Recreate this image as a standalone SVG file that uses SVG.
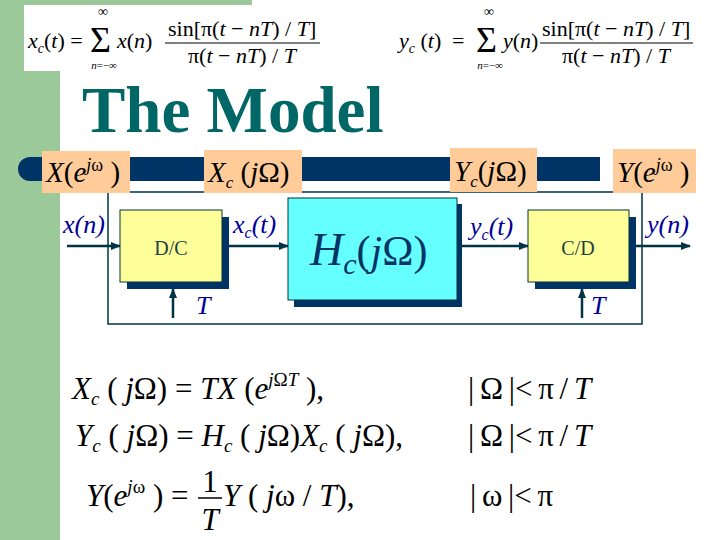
<svg xmlns="http://www.w3.org/2000/svg" width="720" height="540" viewBox="0 0 720 540">
<defs>
<style>
text{font-family:'Liberation Serif','Times New Roman',serif;}
.i{font-style:italic;}
.eq{font-size:31px;fill:#000;}
.top{font-size:22px;fill:#000;}
.lab{font-size:29px;fill:#000;}
.sig{font-size:26px;font-style:italic;fill:#000099;}
.blk{font-size:20px;fill:#1f3f3f;}
.orange{fill:#ffcc99;}
.shadow{fill:#003366;}
.wire{stroke:#003344;stroke-width:2.5;fill:none;}
</style>
<marker id="ah" markerUnits="userSpaceOnUse" markerWidth="10" markerHeight="8" refX="9" refY="4" orient="auto">
<path d="M0,0 L10,4 L0,8 Z" fill="#003344"/>
</marker>
</defs>
<rect x="0" y="0" width="720" height="540" fill="#ffffff"/>
<rect x="0" y="0" width="60" height="540" fill="#9cc99a"/>
<rect x="0" y="0" width="252" height="6" fill="#9cc99a"/>
<rect x="24" y="5" width="306" height="66" fill="#ffffff"/>
<g id="formula-xc">
<text class="top" x="28" y="48"><tspan class="i">x</tspan><tspan class="i" font-size="14" dy="5">c</tspan><tspan dy="-5">(</tspan><tspan class="i">t</tspan>) =</text>
<text x="90" y="52" font-size="36">Σ</text>
<text x="103" y="16" font-size="14" text-anchor="middle">∞</text>
<text class="i" x="104" y="69" font-size="11" text-anchor="middle">n<tspan font-style="normal">=−∞</tspan></text>
<text class="top" x="117" y="48"><tspan class="i">x</tspan>(<tspan class="i">n</tspan>)</text>
<text class="top" x="168" y="36">sin[π(<tspan class="i">t</tspan> − <tspan class="i">nT</tspan>) / <tspan class="i">T</tspan>]</text>
<line x1="165" y1="43" x2="320" y2="43" stroke="#000" stroke-width="1.2"/>
<text class="top" x="188" y="63">π(<tspan class="i">t</tspan> − <tspan class="i">nT</tspan>) / <tspan class="i">T</tspan></text>
</g>
<g id="formula-yc">
<text class="top" x="399" y="48"><tspan class="i">y</tspan><tspan class="i" font-size="14" dy="5">c</tspan><tspan dy="-5"> (</tspan><tspan class="i">t</tspan>)</text>
<text class="top" x="452" y="48">=</text>
<text x="476" y="52" font-size="36">Σ</text>
<text x="489" y="16" font-size="14" text-anchor="middle">∞</text>
<text class="i" x="490" y="69" font-size="11" text-anchor="middle">n<tspan font-style="normal">=−∞</tspan></text>
<text class="top" x="503" y="48"><tspan class="i">y</tspan>(<tspan class="i">n</tspan>)</text>
<text class="top" x="542" y="36">sin[π(<tspan class="i">t</tspan> − <tspan class="i">nT</tspan>) / <tspan class="i">T</tspan>]</text>
<line x1="540" y1="43" x2="693" y2="43" stroke="#000" stroke-width="1.2"/>
<text class="top" x="562" y="63">π(<tspan class="i">t</tspan> − <tspan class="i">nT</tspan>) / <tspan class="i">T</tspan></text>
</g>
<text x="82" y="132" font-size="65" font-weight="bold" fill="#006666">The Model</text>
<path d="M30,157 H600 V181 H30 A12,12 0 0 1 30,157 Z" fill="#003366"/>
<g id="connectors">
<rect x="108" y="192" width="534" height="132" fill="none" stroke="#003344" stroke-width="1.5"/>
<line class="wire" x1="67" y1="246" x2="120" y2="246" marker-end="url(#ah)"/>
<line class="wire" x1="229" y1="246" x2="288" y2="246" marker-end="url(#ah)"/>
<line class="wire" x1="462" y1="246" x2="528" y2="246" marker-end="url(#ah)"/>
<line class="wire" x1="636" y1="246" x2="690" y2="246" marker-end="url(#ah)"/>
<line class="wire" x1="173" y1="318" x2="173" y2="289" marker-end="url(#ah)"/>
<line class="wire" x1="582" y1="318" x2="582" y2="289" marker-end="url(#ah)"/>
</g>
<g id="label-X">
<rect class="orange" x="42" y="151" width="88" height="42"/>
<text class="lab" x="46" y="182"><tspan class="i">X</tspan>(<tspan class="i">e</tspan><tspan class="i" font-size="18" dy="-11">j</tspan><tspan font-size="18">ω</tspan><tspan dy="11"> )</tspan></text>
</g>
<g id="label-Xc">
<rect class="orange" x="204" y="150" width="98" height="43"/>
<text class="lab" x="208" y="182"><tspan class="i">X</tspan><tspan class="i" font-size="17" dy="6">c</tspan><tspan dy="-6"> (</tspan><tspan class="i">j</tspan>Ω)</text>
</g>
<g id="label-Yc">
<rect class="orange" x="450" y="148" width="87" height="44"/>
<text class="lab" x="454" y="181"><tspan class="i">Y</tspan><tspan class="i" font-size="17" dy="6">c</tspan><tspan dy="-6">(</tspan><tspan class="i">j</tspan>Ω)</text>
</g>
<g id="label-Y">
<rect class="orange" x="613" y="149" width="83" height="44"/>
<text class="lab" x="617" y="182"><tspan class="i">Y</tspan>(<tspan class="i">e</tspan><tspan class="i" font-size="18" dy="-11">j</tspan><tspan font-size="18">ω</tspan><tspan dy="11"> )</tspan></text>
</g>
<g id="node-DC">
<rect class="shadow" x="127" y="217" width="102" height="72"/>
<rect x="120" y="210" width="102" height="72" fill="#ffff99" stroke="#003333" stroke-width="1"/>
<text class="blk" x="171" y="255" text-anchor="middle">D/C</text>
</g>
<g id="node-Hc">
<rect class="shadow" x="294" y="204" width="168" height="103"/>
<rect x="288" y="198" width="169" height="102" fill="#66ffff" stroke="#003333" stroke-width="1"/>
<text x="310" y="265" fill="#003366"><tspan class="i" font-size="46">H</tspan><tspan class="i" font-size="30" dy="9">c</tspan><tspan font-size="42" dy="-9">(</tspan><tspan class="i" font-size="42">j</tspan><tspan font-size="42">Ω)</tspan></text>
</g>
<g id="node-CD">
<rect class="shadow" x="535" y="217" width="101" height="72"/>
<rect x="528" y="210" width="101" height="72" fill="#ffff99" stroke="#003333" stroke-width="1"/>
<text class="blk" x="578" y="255" text-anchor="middle">C/D</text>
</g>
<g id="signal-labels">
<text class="sig" x="63" y="233">x(n)</text>
<text class="sig" x="233" y="233">x<tspan font-size="16" dy="5">c</tspan><tspan dy="-5">(t)</tspan></text>
<text class="sig" x="470" y="235">y<tspan font-size="16" dy="5">c</tspan><tspan dy="-5">(t)</tspan></text>
<text class="sig" x="647" y="233">y(n)</text>
<text class="sig" x="196" y="314" font-size="24">T</text>
<text class="sig" x="591" y="314" font-size="24">T</text>
</g>
<g id="equations">
<text class="eq" x="72" y="399"><tspan class="i">X</tspan><tspan class="i" font-size="19" dy="6">c</tspan><tspan dy="-6"> (</tspan><tspan class="i"> j</tspan>Ω) = <tspan class="i">TX</tspan> (<tspan class="i">e</tspan><tspan class="i" font-size="19" dy="-13">j</tspan><tspan font-size="19">Ω</tspan><tspan class="i" font-size="19">T</tspan><tspan dy="13"> ),</tspan></text>
<text class="eq" x="75" y="446"><tspan class="i">Y</tspan><tspan class="i" font-size="19" dy="6">c</tspan><tspan dy="-6"> (</tspan><tspan class="i"> j</tspan>Ω) = <tspan class="i">H</tspan><tspan class="i" font-size="19" dy="6">c</tspan><tspan dy="-6"> (</tspan><tspan class="i"> j</tspan>Ω)<tspan class="i">X</tspan><tspan class="i" font-size="19" dy="6">c</tspan><tspan dy="-6"> (</tspan><tspan class="i"> j</tspan>Ω),</text>
<text class="eq" x="86" y="506"><tspan class="i">Y</tspan>(<tspan class="i">e</tspan><tspan class="i" font-size="19" dy="-13">j</tspan><tspan font-size="19">ω</tspan><tspan dy="13"> ) =</tspan></text>
<text class="eq" x="210" y="492" text-anchor="middle">1</text>
<line x1="198" y1="498" x2="222" y2="498" stroke="#000" stroke-width="1.5"/>
<text class="eq i" x="210" y="530" text-anchor="middle">T</text>
<text class="eq" x="223" y="506"><tspan class="i">Y</tspan> (<tspan class="i"> j</tspan>ω / <tspan class="i">T</tspan>),</text>
<text class="eq" x="468" y="399" word-spacing="-2">| Ω |&lt; π / <tspan class="i">T</tspan></text>
<text class="eq" x="468" y="446" word-spacing="-2">| Ω |&lt; π / <tspan class="i">T</tspan></text>
<text class="eq" x="470" y="506" word-spacing="-2">| ω |&lt; π</text>
</g>
</svg>
